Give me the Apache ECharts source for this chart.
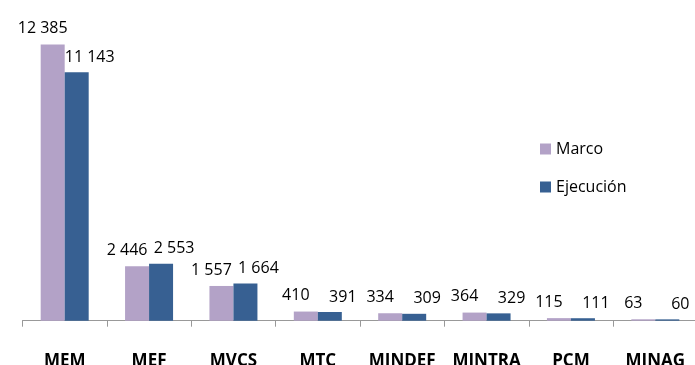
<!DOCTYPE html>
<html>
<head>
<meta charset="utf-8">
<script src="https://cdn.jsdelivr.net/npm/echarts@6/dist/echarts.min.js"></script>
<style>
html,body{margin:0;padding:0;background:#fff;}
#chart{width:695px;height:365px;}
</style>
</head>
<body>
<div id="chart"></div>
<script>
const categories = ['MEM', 'MEF', 'MVCS', 'MTC', 'MINDEF', 'MINTRA', 'PCM', 'MINAG'];
const marco = [12385, 2446, 1557, 410, 334, 364, 115, 63];
const ejecucion = [11143, 2553, 1664, 391, 309, 329, 111, 60];
const seriesNames = ['Marco', 'Ejecución'];

function fmt(v) {
  return String(v).replace(/\B(?=(\d{3})+(?!\d))/g, ' ');
}

const chart = echarts.init(document.getElementById('chart'), null, {renderer: 'canvas'});
const font = '"Open Sans", "Noto Sans", sans-serif';
chart.setOption({
  animation: false,
  backgroundColor: '#ffffff',
  textStyle: {fontFamily: font},
  grid: {left: 22.5, width: 675, top: 30.7, bottom: 44.3, containLabel: false, outerBoundsMode: 'none'},
  legend: {
    orient: 'vertical',
    left: 535,
    top: 136,
    itemWidth: 11,
    itemHeight: 11,
    itemGap: 22,
    icon: 'rect',
    textStyle: {fontFamily: font, fontSize: 16, color: '#000'},
    data: seriesNames
  },
  xAxis: {
    type: 'category',
    data: categories,
    axisLine: {lineStyle: {color: '#999999', width: 1}},
    axisTick: {show: true, length: 6, lineStyle: {color: '#999999', width: 1}},
    axisLabel: {
      margin: 32,
      fontFamily: font,
      fontSize: 17,
      fontWeight: 'bold',
      color: '#000',
      interval: 0
    }
  },
  yAxis: {
    type: 'value',
    min: 0,
    max: 13000,
    show: false,
    splitLine: {show: false}
  },
  series: [
    {
      name: seriesNames[0],
      type: 'bar',
      data: marco,
      barWidth: 24,
      barGap: '0%',
      itemStyle: {color: '#b3a2c7'},
      label: {
        show: true,
        position: 'top',
        distance: 8,
        offset: [-10, 0],
        fontFamily: font,
        fontSize: 16,
        color: '#000',
        formatter: p => fmt(p.value)
      }
    },
    {
      name: seriesNames[1],
      type: 'bar',
      data: ejecucion,
      barWidth: 24,
      barGap: '0%',
      itemStyle: {color: '#376092'},
      label: {
        show: true,
        position: 'top',
        distance: 7,
        offset: [13, 0],
        fontFamily: font,
        fontSize: 16,
        color: '#000',
        formatter: p => fmt(p.value)
      }
    }
  ]
});
</script>
</body>
</html>
